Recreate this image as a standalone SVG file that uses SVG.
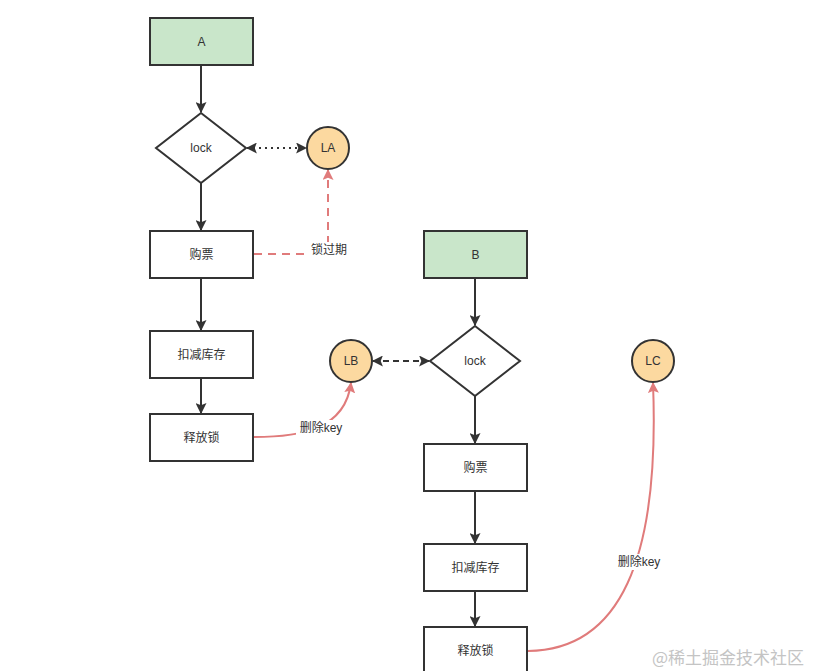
<svg xmlns="http://www.w3.org/2000/svg" width="826" height="671" viewBox="0 0 826 671">
<defs>
<style>
.box{fill:#fff;stroke:#333;stroke-width:2}
.green{fill:#c9e6ca}
.circ{fill:#fcd9a0;stroke:#333;stroke-width:2}
.t{font-family:"Liberation Sans","Noto Sans CJK SC",sans-serif;font-size:12px;fill:#333;text-anchor:middle;dominant-baseline:central}
.flow{fill:none;stroke:#333;stroke-width:2}
.red{fill:none;stroke:#e07b7b;stroke-width:2}
.lbl{font-family:"Liberation Sans","Noto Sans CJK SC",sans-serif;font-size:12px;fill:#333;text-anchor:middle;dominant-baseline:central}
</style>
<marker id="ah" viewBox="0 0 10 10" refX="9" refY="5" markerWidth="6" markerHeight="6" orient="auto-start-reverse" markerUnits="userSpaceOnUse">
<path d="M0,0 L10,5 L0,10 L2,5 z" fill="#333"/>
</marker>
<marker id="ahk" viewBox="0 0 10 10" refX="9" refY="5" markerWidth="11" markerHeight="11" orient="auto-start-reverse" markerUnits="userSpaceOnUse">
<path d="M0,0 L10,5 L0,10 L2,5 z" fill="#333"/>
</marker>
<marker id="ahr" viewBox="0 0 10 10" refX="9" refY="5" markerWidth="11" markerHeight="11" orient="auto" markerUnits="userSpaceOnUse">
<path d="M0,0 L10,5 L0,10 L2,5 z" fill="#e07b7b"/>
</marker>
</defs>
<rect width="826" height="671" fill="#fff"/>
<g id="connectors">
<path class="flow" d="M201,65 V112" marker-end="url(#ahk)"/>
<path class="flow" d="M201,183 V230" marker-end="url(#ahk)"/>
<path class="flow" d="M201,278 V330" marker-end="url(#ahk)"/>
<path class="flow" d="M201,378 V413" marker-end="url(#ahk)"/>
<path class="flow" d="M247,148 H306" stroke-dasharray="2,4" marker-start="url(#ahk)" marker-end="url(#ahk)"/>
<path class="red" d="M254,254 H328 V170" stroke-dasharray="8,6" marker-end="url(#ahr)"/>
<path class="red" d="M254,437 C300,437 345,430 351,383" marker-end="url(#ahr)"/>
<path class="flow" d="M475,278 V325" marker-end="url(#ahk)"/>
<path class="flow" d="M475,396 V443" marker-end="url(#ahk)"/>
<path class="flow" d="M475,491 V543" marker-end="url(#ahk)"/>
<path class="flow" d="M475,591 V626" marker-end="url(#ahk)"/>
<path class="flow" d="M373,361 H429" stroke-dasharray="6,4" marker-start="url(#ahk)" marker-end="url(#ahk)"/>
<path class="red" d="M528,651 C620,650 660,560 653,383" marker-end="url(#ahr)"/>
<rect x="308" y="242" width="42" height="16" fill="#fff"/>
<text class="lbl" x="329" y="250">锁过期</text>
<rect x="296" y="420" width="50" height="16" fill="#fff"/>
<text class="lbl" x="321" y="428">删除key</text>
<rect x="614" y="554" width="50" height="16" fill="#fff"/>
<text class="lbl" x="639" y="562">删除key</text>
</g>
<g id="A"><rect class="box green" x="150" y="18" width="103" height="47"/><text class="t" x="201.5" y="42">A</text></g>
<g id="lockA"><path class="box" d="M201,113 L246,148 L201,183 L156,148 Z"/><text class="t" x="201" y="148">lock</text></g>
<g id="LA"><circle class="circ" cx="328" cy="148" r="21"/><text class="t" x="328" y="148">LA</text></g>
<g id="buyA"><rect class="box" x="150" y="231" width="103" height="47"/><text class="t" x="201.5" y="255">购票</text></g>
<g id="stockA"><rect class="box" x="150" y="331" width="103" height="47"/><text class="t" x="201.5" y="355">扣减库存</text></g>
<g id="releaseA"><rect class="box" x="150" y="414" width="103" height="47"/><text class="t" x="201.5" y="438">释放锁</text></g>
<g id="LB"><circle class="circ" cx="351" cy="361" r="21"/><text class="t" x="351" y="361">LB</text></g>
<g id="B"><rect class="box green" x="424" y="231" width="103" height="47"/><text class="t" x="475.5" y="255">B</text></g>
<g id="lockB"><path class="box" d="M475,326 L520,361 L475,396 L430,361 Z"/><text class="t" x="475" y="361">lock</text></g>
<g id="buyB"><rect class="box" x="424" y="444" width="103" height="47"/><text class="t" x="475.5" y="468">购票</text></g>
<g id="stockB"><rect class="box" x="424" y="544" width="103" height="47"/><text class="t" x="475.5" y="568">扣减库存</text></g>
<g id="releaseB"><rect class="box" x="424" y="627" width="103" height="48"/><text class="t" x="475.5" y="651">释放锁</text></g>
<g id="LC"><circle class="circ" cx="653" cy="361" r="21"/><text class="t" x="653" y="361">LC</text></g>
<text x="728" y="656" font-family="'Noto Sans CJK SC','Liberation Sans',sans-serif" font-size="17" fill="#c4c4c4" text-anchor="middle" dominant-baseline="central">@稀土掘金技术社区</text>
</svg>
